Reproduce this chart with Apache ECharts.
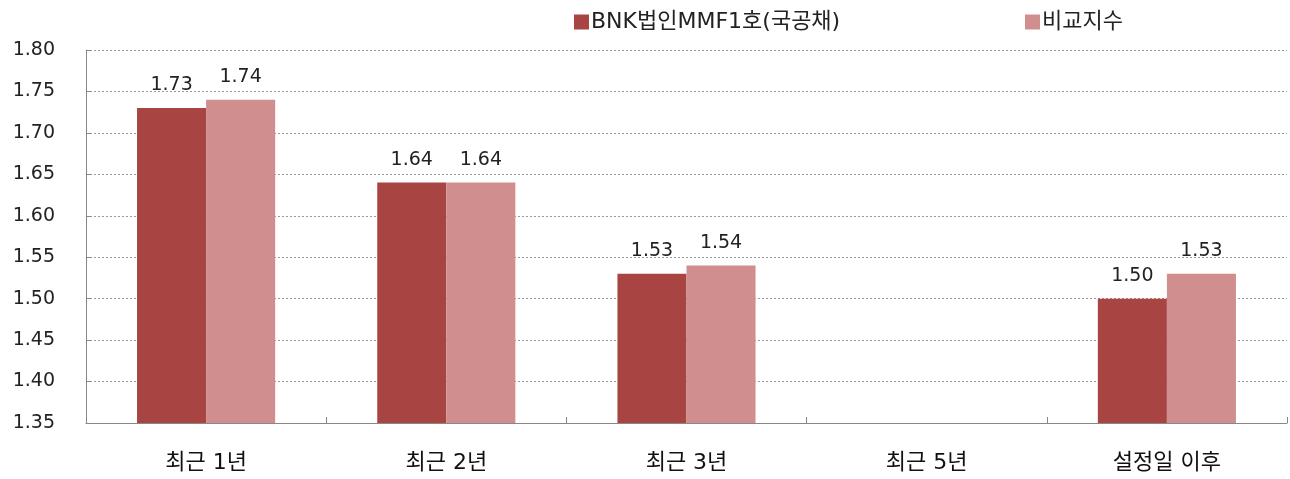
<!DOCTYPE html>
<html><head><meta charset="utf-8">
<script src="https://cdn.jsdelivr.net/npm/echarts@6/dist/echarts.min.js"></script>
<style>html,body{margin:0;padding:0;background:#fff}#c{width:1290px;height:479px}</style>
</head><body><div id="c"></div>
<script>
var categories = ['최근 1년', '최근 2년', '최근 3년', '최근 5년', '설정일 이후'];
var fundName = 'BNK법인MMF1호(국공채)';
var benchName = '비교지수';
var fundValues = [1.73, 1.64, 1.53, null, 1.50];
var benchValues = [1.74, 1.64, 1.54, null, 1.53];
var yTicks = [1.35, 1.40, 1.45, 1.50, 1.55, 1.60, 1.65, 1.70, 1.75, 1.80];

var font = '"DejaVu Sans", "Noto Sans CJK KR", sans-serif';
var chart = echarts.init(document.getElementById('c'));
var labelCfg = {show: true, position: 'top', distance: 13, fontSize: 19, color: '#222', fontFamily: font,
  formatter: function(p){ return p.value == null ? '' : p.value.toFixed(2); }};
chart.setOption({
  animation: false,
  textStyle: {fontFamily: font},
  legend: [
    {data: [fundName], left: 569, top: 6, itemWidth: 15, itemHeight: 15, itemGap: 4,
     textStyle: {fontSize: 22, color: '#222', fontFamily: font, padding: [0, 0, 0, -3]}, icon: 'rect'},
    {data: [benchName], left: 1020, top: 6, itemWidth: 15, itemHeight: 15,
     textStyle: {fontSize: 22, color: '#222', fontFamily: font, padding: [0, 0, 0, -3]}, icon: 'rect'}
  ],
  grid: {left: 86, right: 3, top: 50, bottom: 56, containLabel: false},
  xAxis: {
    type: 'category', data: categories,
    axisLine: {lineStyle: {color: '#888', width: 1}},
    axisTick: {show: true, inside: true, length: 6, lineStyle: {color: '#888'}},
    axisLabel: {fontSize: 22, color: '#111', margin: 29, fontFamily: font}
  },
  yAxis: {
    type: 'value', min: yTicks[0], max: yTicks[yTicks.length - 1], interval: 0.05,
    axisLine: {show: true, lineStyle: {color: '#888', width: 1}},
    axisTick: {show: true, inside: true, length: 5, lineStyle: {color: '#888'}},
    axisLabel: {fontSize: 19, color: '#222', margin: 31, fontFamily: font,
      formatter: function(v){ return v.toFixed(2); }},
    splitLine: {show: true, lineStyle: {color: '#999', type: [2, 2], width: 1}}
  },
  series: [
    {name: fundName, type: 'bar', data: fundValues, barGap: '0%', barCategoryGap: '42.5%',
     itemStyle: {color: '#A84441'}, label: labelCfg},
    {name: benchName, type: 'bar', data: benchValues,
     itemStyle: {color: '#D08F8E'}, label: labelCfg}
  ]
});
</script></body></html>
